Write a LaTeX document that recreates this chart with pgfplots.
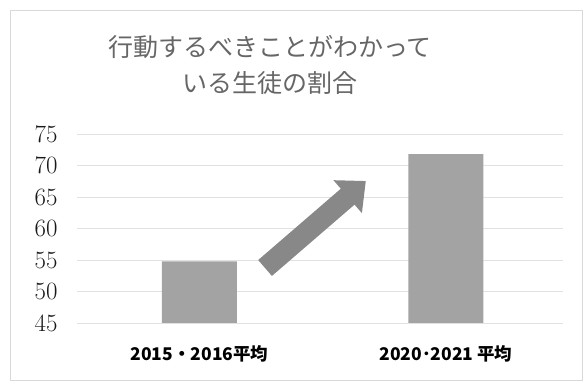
\documentclass[border=0pt]{standalone}
\usepackage{pgfplots}
\pgfplotsset{compat=1.18}
\usepackage{fontspec}
\usetikzlibrary{arrows.meta}
\newfontfamily\jpfont{Noto Sans CJK JP}
\definecolor{bargray}{RGB}{163,163,163}
\definecolor{arrowgray}{RGB}{136,136,136}
\definecolor{gridgray}{RGB}{225,225,225}
\begin{document}
\begin{tikzpicture}
\useasboundingbox (-77pt,-64pt) rectangle (508pt,323pt);
\draw[black!15, line width=0.8pt] (-67pt,-57pt) rectangle (505pt,313pt);
\begin{axis}[
  at={(0pt,0pt)}, anchor=south west,
  scale only axis, width=486pt, height=189pt,
  xmin=-0.497, xmax=1.475, ymin=45, ymax=75,
  ytick={45,50,...,75},
  xtick={0,1},
  xticklabels={2015・2016平均, 2020･2021 平均},
  axis line style={draw=none},
  major tick length=0pt,
  ymajorgrids, grid style={gridgray, line width=0.9pt},
  yticklabel style={font=\fontsize{23}{23}\selectfont, text=black!90, xshift=-16pt},
  xticklabel style={font=\jpfont\bfseries\fontsize{17.5}{17.5}\selectfont, text=black, yshift=-19pt},
  ybar, bar width=75pt,
]
\addplot[fill=bargray, draw=none] coordinates {(0,54.8) (1,71.8)};
\end{axis}
\begin{axis}[
  at={(0pt,0pt)}, anchor=south west,
  scale only axis, width=486pt, height=189pt,
  xmin=-0.497, xmax=1.475, ymin=45, ymax=75,
  hide axis, clip=false,
]
\draw[arrowgray, line width=21pt, -{Triangle[width=42pt,length=24pt]}]
  (axis cs:0.266,53.73) -- (axis cs:0.675,67.54);
\end{axis}
\node[font=\jpfont\fontsize{25}{36}\selectfont, text=black!60, align=center]
  at (193pt,258pt) {行動するべきことがわかって\\いる生徒の割合};
\end{tikzpicture}
\end{document}
